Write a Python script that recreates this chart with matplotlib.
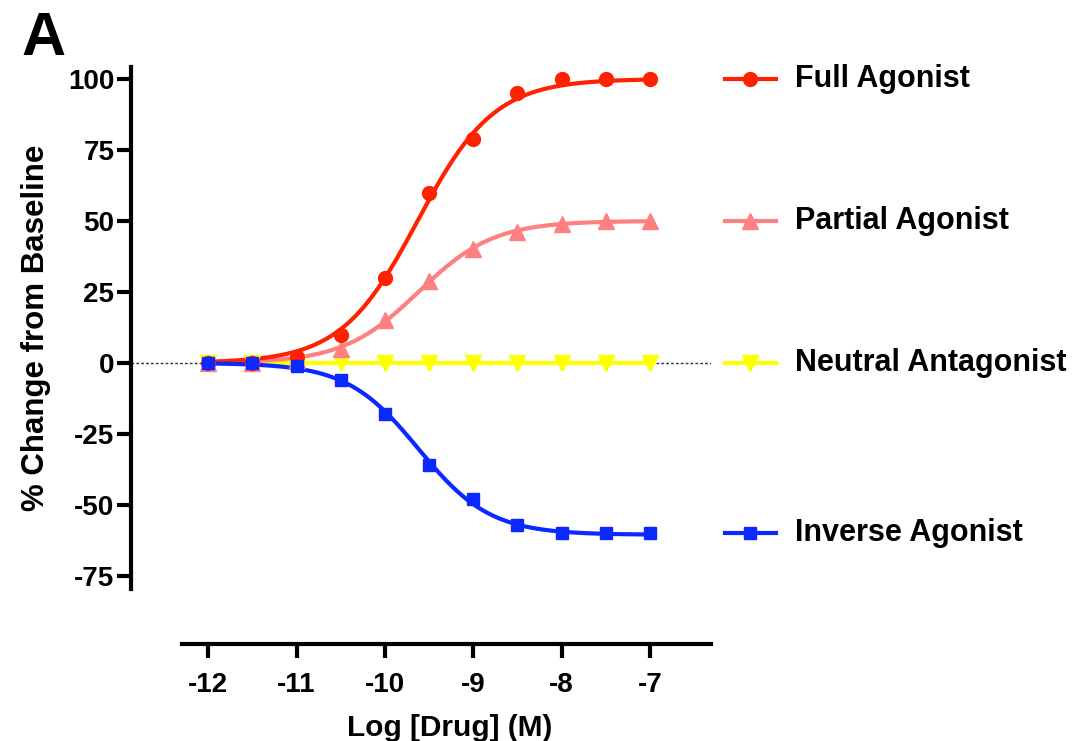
import numpy as np
import matplotlib
matplotlib.use("Agg")
import matplotlib.pyplot as plt
from matplotlib.transforms import blended_transform_factory

plt.rcParams['font.family'] = ['Liberation Sans', 'DejaVu Sans']

# Konzentrationen (log M)
log_drug = [-12, -11.5, -11, -10.5, -10, -9.5, -9, -8.5, -8, -7.5, -7]

# Messwerte (% Aenderung zur Baseline)
full_agonist = [0, 0, 2, 10, 30, 60, 79, 95, 100, 100, 100]
partial_agonist = [0, 0, 1, 5, 15, 29, 40, 46, 49, 50, 50]
neutral_antagonist = [0, 0, 0, 0, 0, 0, 0, 0, 0, 0, 0]
inverse_agonist = [0, 0, -1, -6, -18, -36, -48, -57, -60, -60, -60]

# Achsenbeschriftung
x_ticks = [-12, -11, -10, -9, -8, -7]
y_ticks = [-75, -50, -25, 0, 25, 50, 75, 100]

# Kurvenparameter (Hill-Fit): Plateau, logEC50, Steigung
fit_full = (100, -9.63, 1.0)
fit_partial = (50, -9.62, 1.02)
fit_neutral = (0, -9.6, 1.0)
fit_inverse = (-60.5, -9.62, 1.07)

series = [
    ("Neutral Antagonist", neutral_antagonist, fit_neutral, "#FFFF00", "v", 11.5),
    ("Partial Agonist", partial_agonist, fit_partial, "#FF8080", "^", 11.5),
    ("Full Agonist", full_agonist, fit_full, "#FF2200", "o", 10),
    ("Inverse Agonist", inverse_agonist, fit_inverse, "#0A28FF", "s", 8.5),
]
legend_order = ["Full Agonist", "Partial Agonist", "Neutral Antagonist", "Inverse Agonist"]


def hill(x, top, logec50, slope):
    return top / (1 + 10 ** ((logec50 - x) * slope))


fig = plt.figure(figsize=(10.79, 7.41), dpi=100)
ax = fig.add_axes([0.1214, 0.2051, 0.5376, 0.7045])

ax.axhline(0, color="#333333", lw=1.0, ls=(0, (2, 1.5)), zorder=1)

x_fit = np.linspace(min(log_drug), max(log_drug), 300)
for name, vals, fit, col, mk, ms in series:
    ax.plot(x_fit, hill(x_fit, *fit), color=col, lw=3, zorder=2)
    ax.plot(log_drug, vals, ls="none", marker=mk, ms=ms, color=col,
            mec=col, zorder=3, clip_on=False)

ax.set_xlim(-12.875, -6.307)
ax.set_ylim(-79.6, 104.2)

for s in ["top", "right"]:
    ax.spines[s].set_visible(False)
ax.spines["left"].set_linewidth(3)
ax.spines["bottom"].set_linewidth(3)
ax.spines["bottom"].set_position(("outward", 39.6))
ax.spines["bottom"].set_bounds(-12.295, -6.307)
ax.tick_params(axis="both", width=3, length=10, labelsize=20)
ax.tick_params(axis="x", pad=10)
ax.tick_params(axis="y", pad=2)

ax.set_xticks(x_ticks)
ax.set_yticks(y_ticks)
ax.set_xticklabels([str(t) for t in x_ticks])
ax.set_yticklabels([str(t) for t in y_ticks])
for lab in ax.get_xticklabels() + ax.get_yticklabels():
    lab.set_fontweight("bold")

ax.set_xlabel("Log [Drug] (M)", fontsize=21.5, fontweight="bold")
ax.xaxis.set_label_coords(0.55, -0.24)
ax.set_ylabel("% Change from Baseline", fontsize=22.5, fontweight="bold", labelpad=12)

# Legende rechts neben dem Diagramm, auf Hoehe des Plateaus
trans = blended_transform_factory(ax.transAxes, ax.transData)
lookup = {s[0]: s for s in series}
for name in legend_order:
    _, vals, fit, col, mk, ms = lookup[name]
    y = vals[-1]
    ax.plot([1.024, 1.112], [y, y], color=col, lw=3, transform=trans, clip_on=False)
    ax.plot([1.067], [y], marker=mk, ms=ms, color=col, transform=trans, clip_on=False)
    ax.text(1.145, y, name, transform=trans, fontsize=22, fontweight="bold",
            va="center", ha="left")

fig.text(0.02, 0.926, "A", fontsize=44, fontweight="bold", ha="left", va="baseline")

fig.savefig("out.png", dpi=100)
